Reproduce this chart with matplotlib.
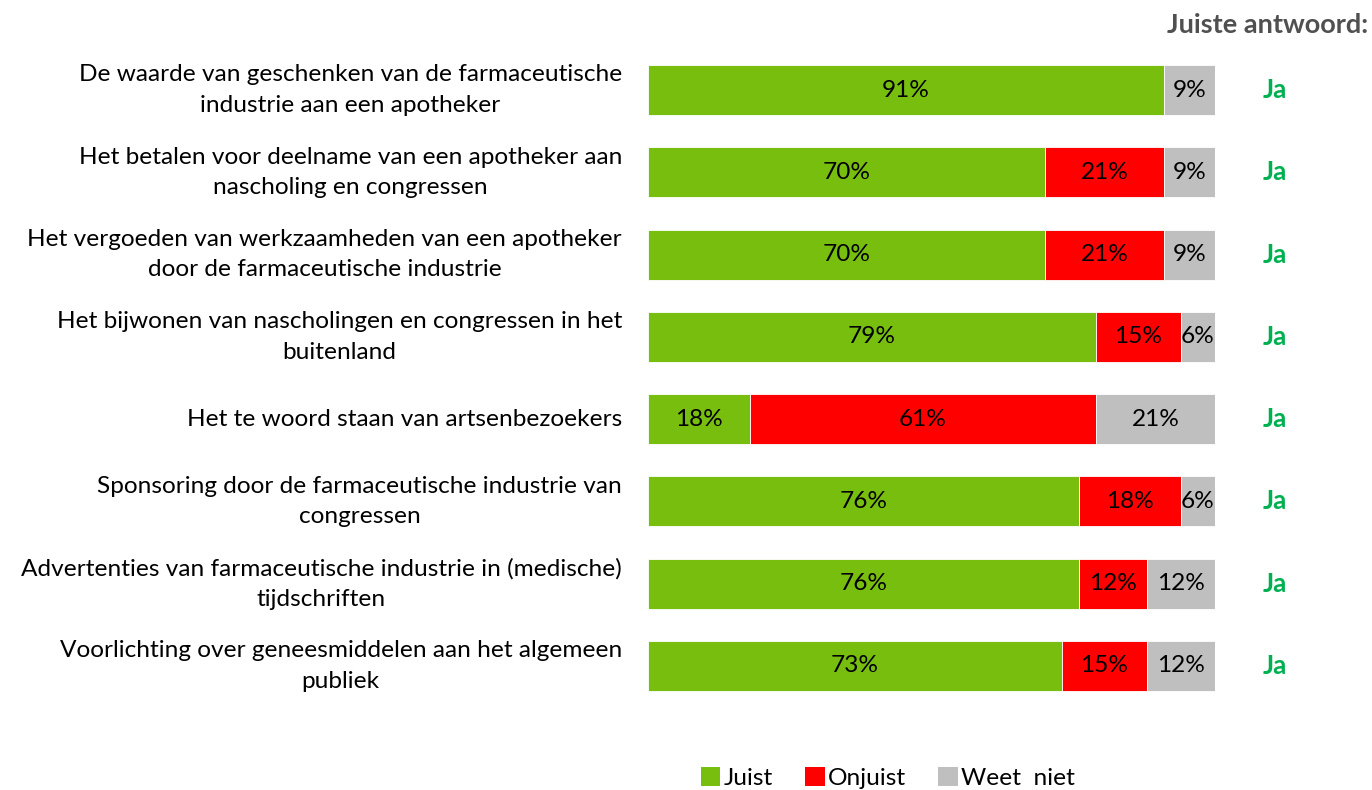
import matplotlib
matplotlib.use("Agg")
import matplotlib.pyplot as plt
from matplotlib.patches import Patch

plt.rcParams['font.family'] = ['Lato', 'DejaVu Sans']

categories = [
    "De waarde van geschenken van de farmaceutische\nindustrie aan een apotheker",
    "Het betalen voor deelname van een apotheker aan\nnascholing en congressen",
    "Het vergoeden van werkzaamheden van een apotheker\ndoor de farmaceutische industrie",
    "Het bijwonen van nascholingen en congressen in het\nbuitenland",
    "Het te woord staan van artsenbezoekers",
    "Sponsoring door de farmaceutische industrie van\ncongressen",
    "Advertenties van farmaceutische industrie in (medische)\ntijdschriften",
    "Voorlichting over geneesmiddelen aan het algemeen\npubliek",
]
juist = [91, 70, 70, 79, 18, 76, 76, 73]
onjuist = [0, 21, 21, 15, 61, 18, 12, 15]
weet_niet = [9, 9, 9, 6, 21, 6, 12, 12]
answers = ["Ja"] * 8

series = [("Juist", juist, "#78BE0F"),
          ("Onjuist", onjuist, "#FF0000"),
          ("Weet  niet", weet_niet, "#BFBFBF")]

fs = 17.6

fig = plt.figure(figsize=(13.72, 7.9), dpi=100)
ax = fig.add_axes([648 / 1372, 1 - 707 / 790, 567 / 1372, 658 / 790])

y = list(range(len(categories)))
left = [0] * len(categories)
for name, vals, col in series:
    ax.barh(y, vals, left=left, height=0.61, color=col, edgecolor='white', linewidth=0.6)
    for i, v in enumerate(vals):
        if v > 0:
            ax.text(left[i] + v / 2, i, f"{v}%", ha='center', va='center', fontsize=fs, color='black')
    left = [l + v for l, v in zip(left, vals)]

for i, c in enumerate(categories):
    ax.text(-4.6, i, c, ha='right', va='center', multialignment='center',
            fontsize=fs, color='black', linespacing=1.55)
    ax.text(110.5, i, answers[i], ha='center', va='center', fontsize=fs + 1,
            fontweight='bold', color='#00B050')

ax.set_xlim(0, 100)
ax.set_ylim(len(categories) - 0.5, -0.5)
ax.axis('off')

fig.text(1368 / 1372, 1 - 25 / 790, "Juiste antwoord:", ha='right', va='center',
         fontsize=19.5, fontweight='bold', color='#505050')

handles = [Patch(facecolor=col, edgecolor='none', label=name) for name, _, col in series]
fig.legend(handles=handles, loc='center', bbox_to_anchor=(888 / 1372, 1 - 778 / 790),
           ncol=3, frameon=False, fontsize=fs, handlelength=0.8, handleheight=0.8,
           handletextpad=0.15, columnspacing=1.3)

fig.savefig("out.png", dpi=100)
